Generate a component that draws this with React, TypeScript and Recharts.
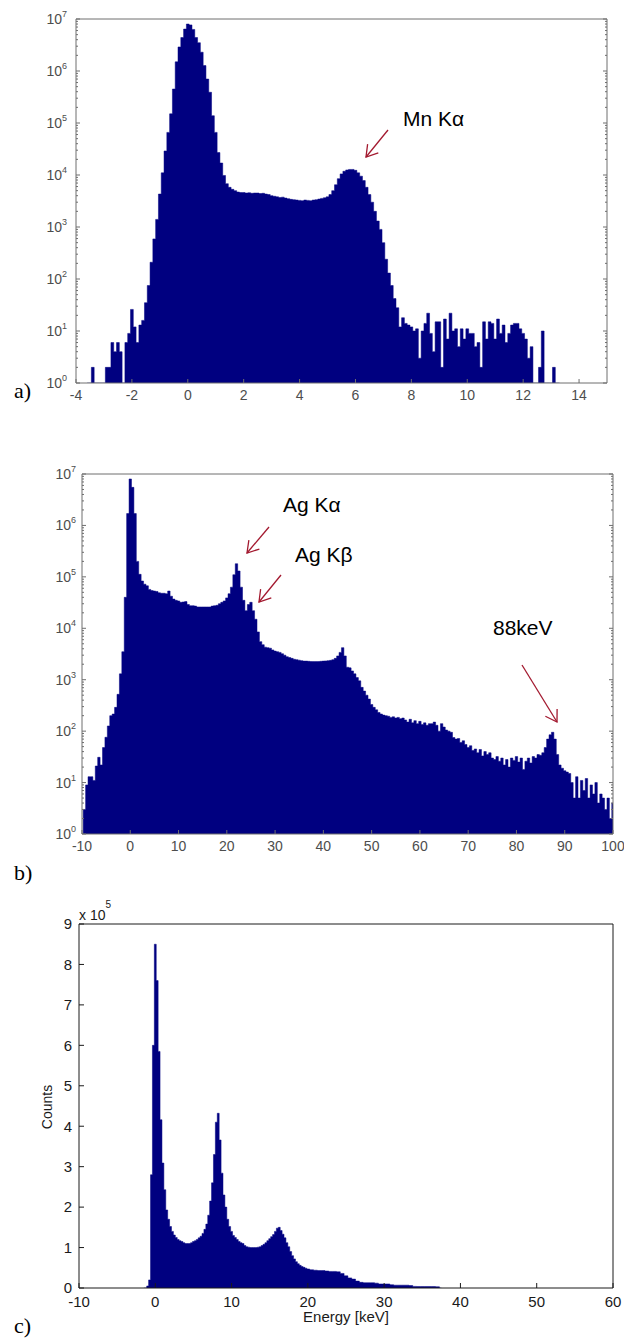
import { Area, AreaChart, XAxis, YAxis } from 'recharts';

const NAVY = '#000080';
const FRAME_GREY = '#6e6e6e';
const TEXT_GREY = '#4d4d4d';
const DARK = '#1a1a1a';
const ARROW_RED = '#a3192f';
const SANS = '"Liberation Sans", Arial, Helvetica, sans-serif';
const SERIF = '"Liberation Serif", "Times New Roman", serif';

// a) Mn source, log counts per energy bin (keV)
const energyA = [
  -3.6, -3.5, -3.4, -3.3, -3.2, -3.1, -3.0, -2.9, -2.8, -2.7,
  -2.6, -2.5, -2.4, -2.3, -2.2, -2.1, -2.0, -1.9, -1.8, -1.7,
  -1.6, -1.5, -1.4, -1.3, -1.2, -1.1, -1.0, -0.9, -0.8, -0.7,
  -0.6, -0.5, -0.4, -0.3, -0.2, -0.1, 0.0, 0.1, 0.2, 0.3,
  0.4, 0.5, 0.6, 0.7, 0.8, 0.9, 1.0, 1.1, 1.2, 1.3,
  1.4, 1.5, 1.6, 1.7, 1.8, 1.9, 2.0, 2.1, 2.2, 2.3,
  2.4, 2.5, 2.6, 2.7, 2.8, 2.9, 3.0, 3.1, 3.2, 3.3,
  3.4, 3.5, 3.6, 3.7, 3.8, 3.9, 4.0, 4.1, 4.2, 4.3,
  4.4, 4.5, 4.6, 4.7, 4.8, 4.9, 5.0, 5.1, 5.2, 5.3,
  5.4, 5.5, 5.6, 5.7, 5.8, 5.9, 6.0, 6.1, 6.2, 6.3,
  6.4, 6.5, 6.6, 6.7, 6.8, 6.9, 7.0, 7.1, 7.2, 7.3,
  7.4, 7.5, 7.6, 7.7, 7.8, 7.9, 8.0, 8.1, 8.2, 8.3,
  8.4, 8.5, 8.6, 8.7, 8.8, 8.9, 9.0, 9.1, 9.2, 9.3,
  9.4, 9.5, 9.6, 9.7, 9.8, 9.9, 10.0, 10.1, 10.2, 10.3,
  10.4, 10.5, 10.6, 10.7, 10.8, 10.9, 11.0, 11.1, 11.2, 11.3,
  11.4, 11.5, 11.6, 11.7, 11.8, 11.9, 12.0, 12.1, 12.2, 12.3,
  12.4, 12.5, 12.6, 12.7, 12.8, 12.9, 13.0, 13.1, 13.2, 13.3,
];
const countsA = [
  1, 1, 2, 1, 1, 1, 1, 2, 2, 6,
  4, 6, 4, 1, 6, 9, 26, 12, 6, 13,
  16, 35, 75, 210, 590, 1400, 4300, 11000, 29000, 66000,
  150000, 450000, 1500000, 2900000, 4400000, 6400000, 8000000, 7700000, 6300000, 4400000,
  3500000, 2300000, 1270000, 700000, 390000, 138000, 66000, 27000, 17000, 9800,
  6800, 5800, 5300, 5000, 4700, 4600, 4600, 4500, 4550, 4450,
  4500, 4500, 4400, 4450, 4300, 4200, 4000, 3900, 3800, 3700,
  3750, 3600, 3500, 3400, 3350, 3300, 3250, 3200, 3300, 3250,
  3200, 3300, 3350, 3450, 3550, 3650, 3800, 4200, 5000, 6500,
  8500, 10500, 11800, 12500, 12800, 12800, 12300, 11000, 9500, 7800,
  5800, 4200, 3000, 2000, 1300, 900, 500, 240, 130, 75,
  42, 28, 12, 18, 14, 13, 12, 10, 11, 3,
  10, 14, 22, 9, 4, 15, 15, 2, 17, 7,
  22, 10, 11, 5, 11, 7, 11, 9, 9, 5,
  6, 2, 15, 7, 15, 14, 7, 17, 9, 13,
  6, 9, 13, 14, 14, 11, 9, 7, 3, 5,
  1, 1, 2, 10, 1, 1, 1, 2, 1, 1,
];
const xTicksA = [-4, -2, 0, 2, 4, 6, 8, 10, 12, 14];

// b) Ag target, log counts per energy bin (keV)
const energyB = [
  -10, -9.5, -9, -8.5, -8, -7.5, -7, -6.5, -6, -5.5,
  -5, -4.5, -4, -3.5, -3, -2.5, -2, -1.5, -1, -0.5,
  0, 0.5, 1, 1.5, 2, 2.5, 3, 3.5, 4, 4.5,
  5, 5.5, 6, 6.5, 7, 7.5, 8, 8.5, 9, 9.5,
  10, 10.5, 11, 11.5, 12, 12.5, 13, 13.5, 14, 14.5,
  15, 15.5, 16, 16.5, 17, 17.5, 18, 18.5, 19, 19.5,
  20, 20.5, 21, 21.5, 22, 22.5, 23, 23.5, 24, 24.5,
  25, 25.5, 26, 26.5, 27, 27.5, 28, 28.5, 29, 29.5,
  30, 30.5, 31, 31.5, 32, 32.5, 33, 33.5, 34, 34.5,
  35, 35.5, 36, 36.5, 37, 37.5, 38, 38.5, 39, 39.5,
  40, 40.5, 41, 41.5, 42, 42.5, 43, 43.5, 44, 44.5,
  45, 45.5, 46, 46.5, 47, 47.5, 48, 48.5, 49, 49.5,
  50, 50.5, 51, 51.5, 52, 52.5, 53, 53.5, 54, 54.5,
  55, 55.5, 56, 56.5, 57, 57.5, 58, 58.5, 59, 59.5,
  60, 60.5, 61, 61.5, 62, 62.5, 63, 63.5, 64, 64.5,
  65, 65.5, 66, 66.5, 67, 67.5, 68, 68.5, 69, 69.5,
  70, 70.5, 71, 71.5, 72, 72.5, 73, 73.5, 74, 74.5,
  75, 75.5, 76, 76.5, 77, 77.5, 78, 78.5, 79, 79.5,
  80, 80.5, 81, 81.5, 82, 82.5, 83, 83.5, 84, 84.5,
  85, 85.5, 86, 86.5, 87, 87.5, 88, 88.5, 89, 89.5,
  90, 90.5, 91, 91.5, 92, 92.5, 93, 93.5, 94, 94.5,
  95, 95.5, 96, 96.5, 97, 97.5, 98, 98.5, 99, 99.5,
  100,
];
const countsB = [
  1, 3, 9, 13, 13, 11, 21, 31, 22, 48,
  76, 126, 200, 215, 290, 520, 1300, 3500, 40000, 1700000,
  8000000, 5500000, 1700000, 200000, 112000, 83000, 72000, 67000, 57000, 54000,
  53000, 52000, 49000, 48000, 48000, 47000, 53000, 42000, 37000, 35000,
  34000, 32000, 32500, 33000, 29000, 27500, 27500, 27000, 26000, 26000,
  26000, 26000, 26000, 26000, 27000, 27500, 28000, 30000, 32000, 34000,
  39000, 47000, 63000, 110000, 180000, 130000, 63000, 35000, 22000, 29000,
  32000, 22000, 15000, 8500, 5500, 4800, 4300, 4200, 4100, 3800,
  3600, 3500, 3400, 3200, 3000, 2800, 2700, 2600, 2500, 2450,
  2400, 2350, 2300, 2300, 2280, 2260, 2250, 2250, 2260, 2280,
  2300, 2320, 2350, 2380, 2450, 2600, 2900, 3400, 4200, 2900,
  1750, 1700, 1480, 1300, 1100, 950, 710, 600, 500, 420,
  330, 290, 260, 230, 215, 205, 200, 195, 185, 190,
  180, 185, 175, 180, 165, 150, 170, 145, 160, 140,
  155, 135, 145, 130, 140, 140, 150, 130, 100, 140,
  120, 105, 100, 95, 75, 70, 72, 60, 65, 55,
  48, 52, 42, 45, 38, 44, 33, 40, 35, 38,
  30, 28, 32, 26, 30, 22, 28, 20, 30, 27,
  32, 25, 30, 18, 26, 30, 24, 32, 30, 35,
  34, 38, 48, 70, 85, 95, 70, 35, 22, 19,
  17, 16, 15, 10, 5, 13, 5, 11, 7, 12,
  5, 9, 6, 10, 4, 6, 5, 3, 5, 2,
  4,
];
const xTicksB = [-10, 0, 10, 20, 30, 40, 50, 60, 70, 80, 90, 100];

// c) linear counts per energy bin (keV)
const energyC = [
  -1.5, -1.25, -1, -0.75, -0.5, -0.25, 0, 0.25, 0.5, 0.75,
  1, 1.25, 1.5, 1.75, 2, 2.25, 2.5, 2.75, 3, 3.25,
  3.5, 3.75, 4, 4.25, 4.5, 4.75, 5, 5.25, 5.5, 5.75,
  6, 6.25, 6.5, 6.75, 7, 7.25, 7.5, 7.75, 8, 8.25,
  8.5, 8.75, 9, 9.25, 9.5, 9.75, 10, 10.25, 10.5, 10.75,
  11, 11.25, 11.5, 11.75, 12, 12.25, 12.5, 12.75, 13, 13.25,
  13.5, 13.75, 14, 14.25, 14.5, 14.75, 15, 15.25, 15.5, 15.75,
  16, 16.25, 16.5, 16.75, 17, 17.25, 17.5, 17.75, 18, 18.25,
  18.5, 18.75, 19, 19.25, 19.5, 19.75, 20,
  20.5, 21, 21.5, 22, 22.5, 23, 23.5, 24, 24.5, 25,
  25.5, 26, 26.5, 27, 27.5, 28, 28.5, 29, 29.5, 30,
  30.5, 31, 31.5, 32, 32.5, 33, 33.5, 34, 34.5, 35,
  35.5, 36, 36.5, 37, 37.5,
];
const countsC = [
  0, 0, 5000, 20000, 280000, 600000, 850000, 760000, 585000, 416000,
  309000, 243000, 193000, 170000, 152000, 140000, 131000, 125000, 120000, 117000,
  115000, 112000, 110000, 110000, 110000, 112000, 115000, 117000, 120000, 124000,
  128000, 135000, 145000, 158000, 180000, 215000, 260000, 330000, 410000, 432000,
  366000, 284000, 230000, 200000, 170000, 152000, 140000, 130000, 125000, 120000,
  115000, 112000, 110000, 105000, 102000, 101000, 100000, 100000, 100000, 100000,
  101000, 102000, 105000, 108000, 112000, 117000, 122000, 127000, 132000, 140000,
  148000, 150000, 142000, 133000, 124000, 112000, 102000, 90000, 80000, 72000,
  65000, 60000, 56000, 53000, 51000, 49000, 47000,
  45000, 44000, 43000, 43000, 42000, 41000, 41000, 40000, 36000, 30000,
  25000, 22000, 17000, 14000, 13000, 13000, 13000, 12000, 10000, 10000,
  10000, 8000, 7000, 7000, 7000, 7000, 6000, 4000, 3500, 3500,
  3500, 3500, 3500, 3000, 0,
];
const xTicksC = [-10, 0, 10, 20, 30, 40, 50, 60];
const yTicksC = [0, 100000, 200000, 300000, 400000, 500000, 600000, 700000, 800000, 900000];

const decades = [1, 10, 100, 1000, 10000, 100000, 1000000];
const logTicks = decades
  .flatMap((d) => [1, 2, 3, 4, 5, 6, 7, 8, 9].map((m) => m * d))
  .concat([10000000]);

const dataA = energyA.map((e, i) => ({ e, c: countsA[i] }));
const dataB = energyB.map((e, i) => ({ e, c: countsB[i] }));
const dataC = energyC.map((e, i) => ({ e, c: countsC[i] }));

const makeLogTick = (axisX: number, dir: 1 | -1, labelGap: number | null) =>
  function LogTick(props: any) {
    const { y, payload } = props;
    const lg = Math.log10(payload.value);
    const p = Math.round(lg);
    const major = Math.abs(lg - p) < 1e-6;
    const len = major ? 4 : 2;
    return (
      <g>
        <line x1={axisX} y1={y} x2={axisX + dir * len} y2={y} stroke={FRAME_GREY} strokeWidth={1} />
        {labelGap !== null && major && (
          <text x={axisX - labelGap} y={y + 5} textAnchor="end" fontFamily={SANS} fontSize={14} fill={TEXT_GREY}>
            10
            <tspan dy={-7} fontSize={9}>
              {p}
            </tspan>
          </text>
        )}
      </g>
    );
  };

type LogPanelProps = {
  data: { e: number; c: number }[];
  xDomain: [number, number];
  xTicks: number[];
  height: number;
  plotLeft: number;
  plotRight: number;
  plotTop: number;
  plotBottom: number;
  labelGap: number;
};

const LogSpectrum = ({ data, xDomain, xTicks, height, plotLeft, plotRight, plotTop, plotBottom, labelGap }: LogPanelProps) => {
  const xAxisHeight = 20;
  return (
    <AreaChart
      width={624}
      height={height}
      data={data}
      margin={{ top: plotTop - 1, right: 624 - plotRight - 1, bottom: height - plotBottom - xAxisHeight, left: 0 }}
    >
      <XAxis
        dataKey="e"
        type="number"
        domain={xDomain}
        allowDataOverflow
        ticks={xTicks}
        interval={0}
        height={xAxisHeight}
        tickSize={-4}
        tickMargin={11}
        stroke={FRAME_GREY}
        tick={{ fill: TEXT_GREY, fontSize: 14, fontFamily: SANS }}
      />
      <XAxis
        xAxisId="top"
        orientation="top"
        dataKey="e"
        type="number"
        domain={xDomain}
        allowDataOverflow
        ticks={xTicks}
        interval={0}
        height={1}
        tickSize={-4}
        tick={false}
        stroke={FRAME_GREY}
      />
      <YAxis
        type="number"
        scale="log"
        domain={[1, 10000000]}
        allowDataOverflow
        ticks={logTicks}
        interval={0}
        width={plotLeft}
        tickLine={false}
        tick={makeLogTick(plotLeft, 1, labelGap)}
        stroke={FRAME_GREY}
      />
      <YAxis
        yAxisId="right"
        orientation="right"
        type="number"
        scale="log"
        domain={[1, 10000000]}
        allowDataOverflow
        ticks={logTicks}
        interval={0}
        width={1}
        tickLine={false}
        tick={makeLogTick(plotRight, -1, null)}
        stroke={FRAME_GREY}
      />
      <Area
        type="step"
        dataKey="c"
        baseValue={1}
        stroke={NAVY}
        strokeWidth={0.5}
        fill={NAVY}
        fillOpacity={1}
        isAnimationActive={false}
      />
    </AreaChart>
  );
};

const LinearSpectrum = () => (
  <AreaChart width={624} height={462} data={dataC} margin={{ top: 43, right: 10, bottom: 24, left: 0 }}>
    <XAxis
      dataKey="e"
      type="number"
      domain={[-10, 60]}
      allowDataOverflow
      ticks={xTicksC}
      interval={0}
      height={30}
      tickSize={-5}
      tickMargin={13}
      stroke={DARK}
      tick={{ fill: DARK, fontSize: 15, fontFamily: SANS }}
    />
    <XAxis
      xAxisId="top"
      orientation="top"
      dataKey="e"
      type="number"
      domain={[-10, 60]}
      allowDataOverflow
      ticks={xTicksC}
      interval={0}
      height={1}
      tickSize={-5}
      tick={false}
      stroke={DARK}
    />
    <YAxis
      type="number"
      domain={[0, 900000]}
      allowDataOverflow
      ticks={yTicksC}
      interval={0}
      width={79}
      tickSize={-5}
      tickMargin={12}
      tickFormatter={(v: number) => String(v / 100000)}
      stroke={DARK}
      tick={{ fill: DARK, fontSize: 15, fontFamily: SANS }}
    />
    <YAxis
      yAxisId="right"
      orientation="right"
      type="number"
      domain={[0, 900000]}
      allowDataOverflow
      ticks={yTicksC}
      interval={0}
      width={1}
      tickSize={-5}
      tick={false}
      stroke={DARK}
    />
    <Area
      type="step"
      dataKey="c"
      stroke={NAVY}
      strokeWidth={0.5}
      fill={NAVY}
      fillOpacity={1}
      isAnimationActive={false}
    />
  </AreaChart>
);

// annotation layout (page pixels)
const arrows = [
  { from: [388, 130], to: [366, 157] },
  { from: [269, 527], to: [247, 553] },
  { from: [281, 575], to: [259, 602] },
  { from: [522, 665], to: [557, 722] },
];
const notes = [
  { text: 'Mn Kα', x: 403, y: 126 },
  { text: 'Ag Kα', x: 283, y: 512 },
  { text: 'Ag Kβ', x: 295, y: 562 },
  { text: '88keV', x: 493, y: 635 },
];
const panelTags = [
  { text: 'a)', y: 398 },
  { text: 'b)', y: 880 },
  { text: 'c)', y: 1333 },
];

const arrowHead = (from: number[], to: number[]) => {
  const dx = to[0] - from[0];
  const dy = to[1] - from[1];
  const l = Math.hypot(dx, dy);
  const ux = -dx / l;
  const uy = -dy / l;
  const a = (32 * Math.PI) / 180;
  const len = 13;
  const p1 = [to[0] + len * (ux * Math.cos(a) - uy * Math.sin(a)), to[1] + len * (ux * Math.sin(a) + uy * Math.cos(a))];
  const p2 = [to[0] + len * (ux * Math.cos(-a) - uy * Math.sin(-a)), to[1] + len * (ux * Math.sin(-a) + uy * Math.cos(-a))];
  return `M${p1[0]},${p1[1]} L${to[0]},${to[1]} L${p2[0]},${p2[1]}`;
};

export default function App() {
  return (
    <div style={{ position: 'absolute', left: 0, top: 0, width: 624, height: 1342, background: '#fff' }}>
      <div style={{ position: 'absolute', left: 0, top: 0 }}>
        <LogSpectrum
          data={dataA}
          xDomain={[-4, 15]}
          xTicks={xTicksA}
          height={420}
          plotLeft={76}
          plotRight={607}
          plotTop={19}
          plotBottom={383}
          labelGap={9}
        />
      </div>
      <div style={{ position: 'absolute', left: 0, top: 440 }}>
        <LogSpectrum
          data={dataB}
          xDomain={[-10, 100]}
          xTicks={xTicksB}
          height={420}
          plotLeft={82}
          plotRight={613}
          plotTop={34}
          plotBottom={394}
          labelGap={6}
        />
      </div>
      <div style={{ position: 'absolute', left: 0, top: 880 }}>
        <LinearSpectrum />
      </div>
      <svg width={624} height={1342} style={{ position: 'absolute', left: 0, top: 0, pointerEvents: 'none' }}>
        {arrows.map((a, i) => (
          <g key={i} stroke={ARROW_RED} strokeWidth={1.3} fill="none">
            <line x1={a.from[0]} y1={a.from[1]} x2={a.to[0]} y2={a.to[1]} />
            <path d={arrowHead(a.from, a.to)} />
          </g>
        ))}
        {notes.map((n) => (
          <text key={n.text} x={n.x} y={n.y} fontFamily={SANS} fontSize={21} fill="#000">
            {n.text}
          </text>
        ))}
        {panelTags.map((t) => (
          <text key={t.text} x={14} y={t.y} fontFamily={SERIF} fontSize={22} fill="#000">
            {t.text}
          </text>
        ))}
        <text x={79} y={920} fontFamily={SANS} fontSize={14} fill={DARK}>
          x 10
          <tspan dy={-12} fontSize={10}>
            5
          </tspan>
        </text>
        <text
          x={52}
          y={1107}
          transform="rotate(-90 52 1107)"
          textAnchor="middle"
          fontFamily={SANS}
          fontSize={14}
          fill={DARK}
        >
          Counts
        </text>
        <text x={346} y={1322} textAnchor="middle" fontFamily={SANS} fontSize={15} fill={DARK}>
          Energy [keV]
        </text>
      </svg>
    </div>
  );
}
